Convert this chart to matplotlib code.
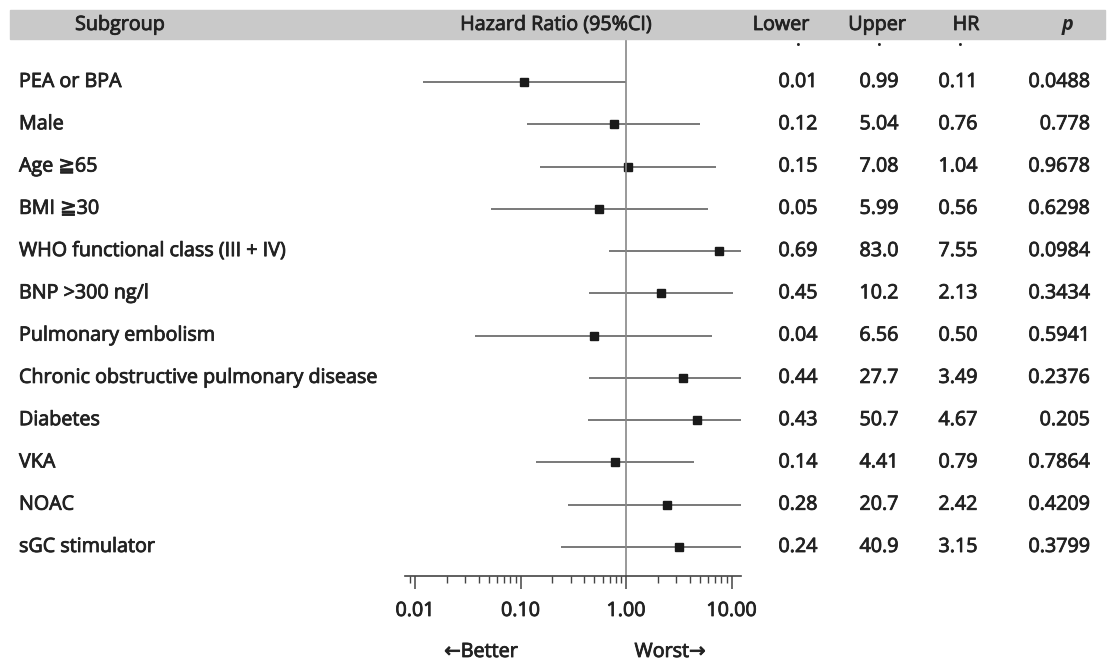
import matplotlib
matplotlib.use("Agg")
import matplotlib.pyplot as plt
import matplotlib.patheffects as pe
from matplotlib.transforms import blended_transform_factory
from matplotlib.patches import Rectangle
from matplotlib.ticker import LogLocator, NullFormatter, FixedLocator, FixedFormatter

plt.rcParams['font.family'] = ['Open Sans', 'DejaVu Sans']

subgroups = ["PEA or BPA", "Male", "Age \u226765", "BMI \u226730",
             "WHO functional class (III + IV)", "BNP >300 ng/l",
             "Pulmonary embolism", "Chronic obstructive pulmonary disease",
             "Diabetes", "VKA", "NOAC", "sGC stimulator"]

# values as drawn
hr = [0.108, 0.77, 1.04, 0.555, 7.6, 2.14, 0.50, 3.47, 4.7, 0.79, 2.44, 3.18]
ci_low = [0.012, 0.115, 0.153, 0.0525, 0.69, 0.446, 0.037, 0.446, 0.437, 0.14, 0.28, 0.24]
ci_high = [0.99, 5.03, 7.13, 5.99, 83.0, 10.3, 6.5, 27.7, 50.7, 4.4, 20.7, 40.9]

# table text
lower_txt = ["0.01", "0.12", "0.15", "0.05", "0.69", "0.45", "0.04", "0.44", "0.43", "0.14", "0.28", "0.24"]
upper_txt = ["0.99", "5.04", "7.08", "5.99", "83.0", "10.2", "6.56", "27.7", "50.7", "4.41", "20.7", "40.9"]
hr_txt = ["0.11", "0.76", "1.04", "0.56", "7.55", "2.13", "0.50", "3.49", "4.67", "0.79", "2.42", "3.15"]
p_txt = ["0.0488", "0.778", "0.9678", "0.6298", "0.0984", "0.3434", "0.5941", "0.2376", "0.205", "0.7864", "0.4209", "0.3799"]

W, H = 1108, 664
fig = plt.figure(figsize=(W / 100, H / 100), dpi=100)
ax = fig.add_axes([405 / W, (H - 576) / H, (741 - 405) / W, (576 - 40) / H])

txt_color = "#222222"
fs = 14.2
thick = [pe.withStroke(linewidth=0.6, foreground=txt_color)]
n = len(subgroups)
rows = list(range(n))

for i in rows:
    ax.plot([ci_low[i], ci_high[i]], [i, i], color="#555555", lw=1.1, solid_capstyle="butt")
ax.plot(hr, rows, ls="none", marker="s", ms=6, color="#1a1a1a")
ax.axvline(1.0, color="#888888", lw=1.2)

ax.set_xscale("log")
ax.set_xlim(0.00804, 12.3)
ax.set_ylim(n - 1 + 0.686, -0.994)

for s in ["top", "right", "left"]:
    ax.spines[s].set_visible(False)
ax.spines["bottom"].set_color("#444444")
ax.spines["bottom"].set_linewidth(1.2)
ax.set_yticks([])
ax.xaxis.set_major_locator(FixedLocator([0.01, 0.1, 1, 10]))
ax.xaxis.set_major_formatter(FixedFormatter(["0.01", "0.10", "1.00", "10.00"]))
ax.xaxis.set_minor_locator(LogLocator(base=10, subs=range(2, 10)))
ax.xaxis.set_minor_formatter(NullFormatter())
ax.tick_params(axis="x", which="major", length=9, width=1.1, color="#444444",
               labelsize=fs, labelcolor=txt_color, pad=9)
ax.tick_params(axis="x", which="minor", length=5, width=1.0, color="#444444")
for lab in ax.get_xticklabels():
    lab.set_path_effects(thick)

# header bar
fig.patches.append(Rectangle((10 / W, (H - 39) / H), (1105 - 10) / W, 29 / H,
                             transform=fig.transFigure, color="#c9c9c9", zorder=0))
hy = 1 - 25 / H
hdr = dict(fontsize=fs, color=txt_color, va="center", ha="center", path_effects=thick)
fig.text(120 / W, hy, "Subgroup", **hdr)
fig.text(556 / W, hy, "Hazard Ratio (95%CI)", **hdr)
fig.text(781 / W, hy, "Lower", **hdr)
fig.text(877 / W, hy, "Upper", **hdr)
fig.text(966 / W, hy, "HR", **hdr)
fig.text(1068 / W, hy, "p", fontstyle="italic", fontsize=fs, color=txt_color,
         fontweight="bold", va="center", ha="center")
for xc in [798, 879, 960]:
    fig.text(xc / W, 1 - 46 / H, "\u00b7", fontsize=12, fontweight="bold",
             color=txt_color, ha="center", va="center")

# table
tr = blended_transform_factory(fig.transFigure, ax.transData)
cell = dict(fontsize=fs, color=txt_color, va="center", transform=tr, path_effects=thick)
for i in rows:
    fig.text(19 / W, i, subgroups[i], ha="left", **cell)
    fig.text(798 / W, i, lower_txt[i], ha="center", **cell)
    fig.text(879 / W, i, upper_txt[i], ha="center", **cell)
    fig.text(958 / W, i, hr_txt[i], ha="center", **cell)
    fig.text(1090 / W, i, p_txt[i], ha="right", **cell)

fig.text(481 / W, 1 - 652 / H, "\u2190Better", fontsize=fs, color=txt_color,
         ha="center", va="center", path_effects=thick)
fig.text(670 / W, 1 - 652 / H, "Worst\u2192", fontsize=fs, color=txt_color,
         ha="center", va="center", path_effects=thick)

fig.savefig("out.png", dpi=100)
